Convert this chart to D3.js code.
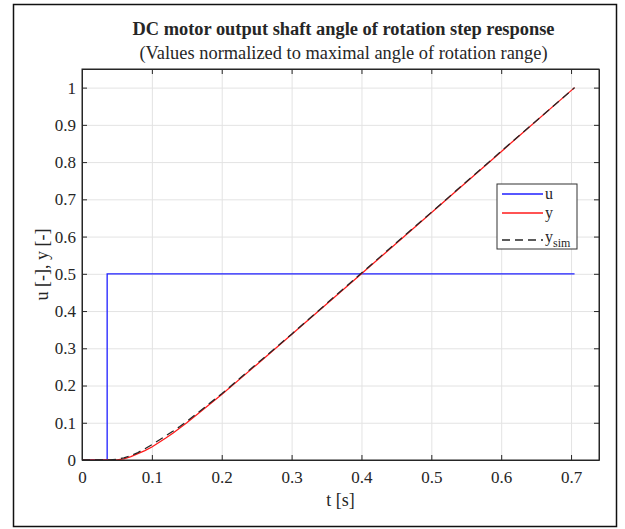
<!DOCTYPE html>
<html>
<head>
<meta charset="utf-8">
<script src="https://cdn.jsdelivr.net/npm/d3@7"></script>
<style>
  body { margin: 0; background: #fff; }
  svg text { font-family: "Liberation Serif", "Times New Roman", serif; fill: #262626; }
  .axis path, .axis line { stroke: #262626; }
  .grid line { stroke: #e3e3e3; }
  .grid path { stroke: none; }
</style>
</head>
<body>
<div id="chart"></div>
<script>
// step input u
const uTime = [0, 0.036, 0.036, 0.705];
const uValue = [0, 0, 0.5, 0.5];

// measured response y
const yTime = [0, 0.04, 0.05, 0.06, 0.07, 0.08, 0.09, 0.1, 0.11, 0.12, 0.13, 0.14, 0.15, 0.17, 0.2, 0.25, 0.3, 0.4, 0.5, 0.6, 0.705];
const yValue = [0, 0, 0.0005, 0.003, 0.009, 0.017, 0.025, 0.035, 0.047, 0.059, 0.072, 0.086, 0.1, 0.13, 0.176, 0.256, 0.337, 0.5, 0.664, 0.828, 1.0];

// simulated response y_sim
const simTime = [0, 0.04, 0.05, 0.06, 0.07, 0.08, 0.09, 0.1, 0.11, 0.12, 0.13, 0.14, 0.15, 0.17, 0.2, 0.25, 0.3, 0.4, 0.5, 0.6, 0.705];
const simValue = [0, 0, 0.002, 0.006, 0.012, 0.02, 0.03, 0.041, 0.053, 0.065, 0.077, 0.09, 0.104, 0.133, 0.178, 0.258, 0.338, 0.502, 0.665, 0.829, 1.0];

const xTicks = [0, 0.1, 0.2, 0.3, 0.4, 0.5, 0.6, 0.7];
const yTicks = [0, 0.1, 0.2, 0.3, 0.4, 0.5, 0.6, 0.7, 0.8, 0.9, 1];

const width = 625;
const height = 529;
const plot = { left: 82, top: 69, right: 599, bottom: 460 };

const svg = d3.select('#chart')
  .append('svg')
  .attr('width', width)
  .attr('height', height);

// outer frame
svg.append('rect')
  .attr('x', 13.5).attr('y', 4.5)
  .attr('width', 603).attr('height', 522)
  .attr('fill', 'none')
  .attr('stroke', '#111')
  .attr('stroke-width', 1.5);

const x = d3.scaleLinear().domain([0, 0.74]).range([plot.left, plot.right]);
const y = d3.scaleLinear().domain([0, 1.05]).range([plot.bottom, plot.top]);
const fmt = d3.format('~g');

// grid
svg.append('g')
  .attr('class', 'grid')
  .attr('transform', `translate(0,${plot.bottom})`)
  .call(d3.axisBottom(x).tickValues(xTicks).tickSize(-(plot.bottom - plot.top)).tickFormat(''));
svg.append('g')
  .attr('class', 'grid')
  .attr('transform', `translate(${plot.left},0)`)
  .call(d3.axisLeft(y).tickValues(yTicks).tickSize(-(plot.right - plot.left)).tickFormat(''));

// lines
const mkLine = (ts, vs) => d3.line()
  .x((d, i) => x(ts[i]))
  .y((d, i) => y(vs[i]))(vs);

svg.append('path')
  .attr('d', mkLine(uTime, uValue))
  .attr('fill', 'none').attr('stroke', '#1f1fff').attr('stroke-width', 1.3);
svg.append('path')
  .attr('d', mkLine(yTime, yValue))
  .attr('fill', 'none').attr('stroke', '#ff1a1a').attr('stroke-width', 1.3);
svg.append('path')
  .attr('d', mkLine(simTime, simValue))
  .attr('fill', 'none').attr('stroke', '#262626').attr('stroke-width', 1.3)
  .attr('stroke-dasharray', '8,5');

// axes, ticks inward on all sides
svg.append('g')
  .attr('class', 'axis')
  .attr('transform', `translate(0,${plot.bottom})`)
  .call(d3.axisBottom(x).tickValues(xTicks).tickSize(-5).tickSizeOuter(0).tickPadding(11).tickFormat(fmt));
svg.append('g')
  .attr('class', 'axis')
  .attr('transform', `translate(0,${plot.top})`)
  .call(d3.axisTop(x).tickValues(xTicks).tickSize(-5).tickSizeOuter(0).tickFormat(''));
svg.append('g')
  .attr('class', 'axis')
  .attr('transform', `translate(${plot.left},0)`)
  .call(d3.axisLeft(y).tickValues(yTicks).tickSize(-5).tickSizeOuter(0).tickPadding(6).tickFormat(fmt));
svg.append('g')
  .attr('class', 'axis')
  .attr('transform', `translate(${plot.right},0)`)
  .call(d3.axisRight(y).tickValues(yTicks).tickSize(-5).tickSizeOuter(0).tickFormat(''));

svg.selectAll('.axis text')
  .style('font-size', '17px')
  .style('font-family', '"Liberation Serif", "Times New Roman", serif')
  .attr('fill', '#262626');

// plot box
svg.append('rect')
  .attr('x', plot.left).attr('y', plot.top)
  .attr('width', plot.right - plot.left).attr('height', plot.bottom - plot.top)
  .attr('fill', 'none').attr('stroke', '#262626').attr('stroke-width', 1);

// titles
const cx = (plot.left + plot.right) / 2 + 3;
svg.append('text')
  .attr('x', cx).attr('y', 35)
  .attr('text-anchor', 'middle')
  .style('font-size', '18.4px').style('font-weight', 'bold')
  .text('DC motor output shaft angle of rotation step response');
svg.append('text')
  .attr('x', cx).attr('y', 59)
  .attr('text-anchor', 'middle')
  .style('font-size', '18.4px')
  .text('(Values normalized to maximal angle of rotation range)');

svg.append('text')
  .attr('x', (plot.left + plot.right) / 2)
  .attr('y', 506)
  .attr('text-anchor', 'middle')
  .style('font-size', '18px')
  .text('t [s]');
svg.append('text')
  .attr('transform', `translate(48,${(plot.top + plot.bottom) / 2}) rotate(-90)`)
  .attr('text-anchor', 'middle')
  .style('font-size', '18px')
  .text('u [-], y [-]');

// legend
const legend = svg.append('g').attr('transform', 'translate(497,184)');
legend.append('rect')
  .attr('width', 80).attr('height', 65)
  .attr('fill', '#fff').attr('stroke', '#333').attr('stroke-width', 1);
const entries = [
  { name: 'u', color: '#1f1fff', dash: null, yy: 10, sub: null },
  { name: 'y', color: '#ff1a1a', dash: null, yy: 29, sub: null },
  { name: 'y', color: '#262626', dash: '8,5', yy: 56, sub: 'sim' },
];
entries.forEach(e => {
  legend.append('line')
    .attr('x1', 5).attr('x2', 46).attr('y1', e.yy).attr('y2', e.yy)
    .attr('stroke', e.color).attr('stroke-width', 1.3)
    .attr('stroke-dasharray', e.dash);
  const t = legend.append('text')
    .attr('x', 48).attr('y', e.sub ? e.yy + 2 : e.yy + 5)
    .style('font-size', '16px')
    .text(e.name);
  if (e.sub) {
    t.append('tspan').attr('dy', 5).style('font-size', '12px').text(e.sub);
  }
});
</script>
</body>
</html>
